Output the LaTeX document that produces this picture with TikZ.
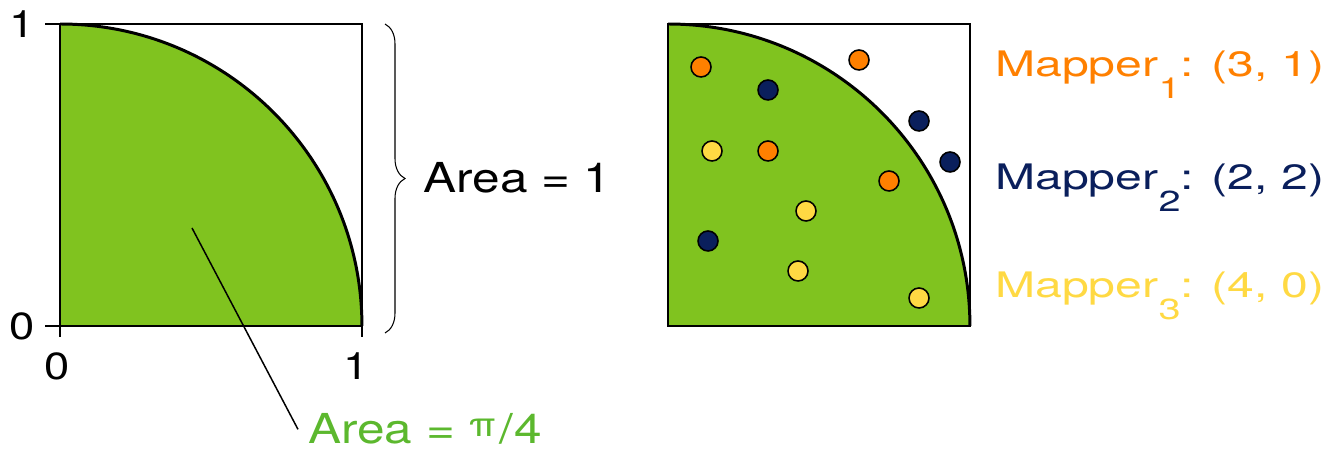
\documentclass[tikz,border=0pt]{standalone}
\usepackage{fontspec}
\setmainfont[FakeStretch=1.2]{TeX Gyre Heros}
\newfontfamily\widefont[FakeStretch=1.37]{TeX Gyre Heros}
\usetikzlibrary{decorations.pathreplacing}

\definecolor{piegreen}{HTML}{80C31F}
\definecolor{areagreen}{HTML}{5CB82E}
\definecolor{mapperone}{HTML}{FF8000}
\definecolor{mappertwo}{HTML}{0A1F5C}
\definecolor{mapperthree}{HTML}{FFD943}

\tikzset{
  sampledot/.style={circle, draw=black, line width=0.9pt, minimum size=0.4cm, inner sep=0pt},
  ticklabel/.style={font=\fontsize{21.5}{24}\selectfont, inner sep=0pt},
  arealabel/.style={font=\fontsize{23.5}{28}\selectfont, inner sep=0pt},
  mapperlabel/.style={font=\widefont\fontsize{20}{24}\selectfont, inner sep=0pt, anchor=base west},
}
\newcommand{\mappersub}[1]{\raisebox{-12pt}{\fontsize{16.5}{16}\selectfont #1}}

\begin{document}
\begin{tikzpicture}[x=0.02cm, y=-0.02cm]
    \useasboundingbox (0,0) rectangle (1329,452);

    % Left: quarter disc in the unit square
    \fill[piegreen] (60,326) -- (60,24) arc[start angle=90, end angle=0, radius=6.04cm] -- cycle;
    \draw[line width=1.1pt] (45,24) -- (362,24) -- (362,337);
    \draw[line width=1.1pt] (45,326) -- (362,326);
    \draw[line width=1.1pt] (60,24) -- (60,337);
    \draw[line width=1.7pt] (60,24) arc[start angle=90, end angle=0, radius=6.04cm];

    % Axis labels
    \node[ticklabel] (ytop) at (22,24) {1};
    \node[ticklabel] (ybot) at (22,326) {0};
    \node[ticklabel] (xleft) at (57,366) {0};
    \node[ticklabel] (xright) at (356,366) {1};

    % Brace for the whole square
    \coordinate (bracetop) at (385,24);
    \coordinate (bracebot) at (385,333);
    \draw[decorate, decoration={brace, amplitude=0.4cm}, line width=0.6pt] (bracetop) -- (bracebot);
    \node[arealabel, anchor=west] (areaone) at (423,178) {Area = 1};

    % Pointer to the green area
    \coordinate (inpie) at (192,228);
    \node[arealabel, text=areagreen, anchor=base west, inner xsep=0.2cm] (areapi) at (298,444)
        {Area = \raisebox{4pt}{\fontsize{19}{20}\selectfont π}\kern2pt/\kern1pt4};
    \draw[line width=0.85pt] (inpie) -- (areapi.west);

    % Right: quarter disc with the sampled points
    \fill[piegreen] (668,326) -- (668,24) arc[start angle=90, end angle=0, radius=6.04cm] -- cycle;
    \draw[line width=1.1pt] (668,24) rectangle (970,326);
    \draw[line width=1.7pt] (668,24) arc[start angle=90, end angle=0, radius=6.04cm];

    \foreach \x/\y/\c [count=\i] in {
        701/67/mapperone, 768/151/mapperone, 889/181/mapperone, 859/60/mapperone,
        768/90/mappertwo, 708/241/mappertwo, 919/121/mappertwo, 950/162/mappertwo,
        712/151/mapperthree, 806/211/mapperthree, 798/271/mapperthree, 919/298/mapperthree}
        \node[sampledot, fill=\c] (pt\i) at (\x,\y) {};

    % Counts per mapper
    \node[mapperlabel, text=mapperone] (mapone) at (995,77) {Mapper\mappersub{1}: (3, 1)};
    \node[mapperlabel, text=mappertwo] (maptwo) at (995,190) {Mapper\mappersub{2}: (2, 2)};
    \node[mapperlabel, text=mapperthree] (mapthree) at (995,298) {Mapper\mappersub{3}: (4, 0)};
\end{tikzpicture}
\end{document}
